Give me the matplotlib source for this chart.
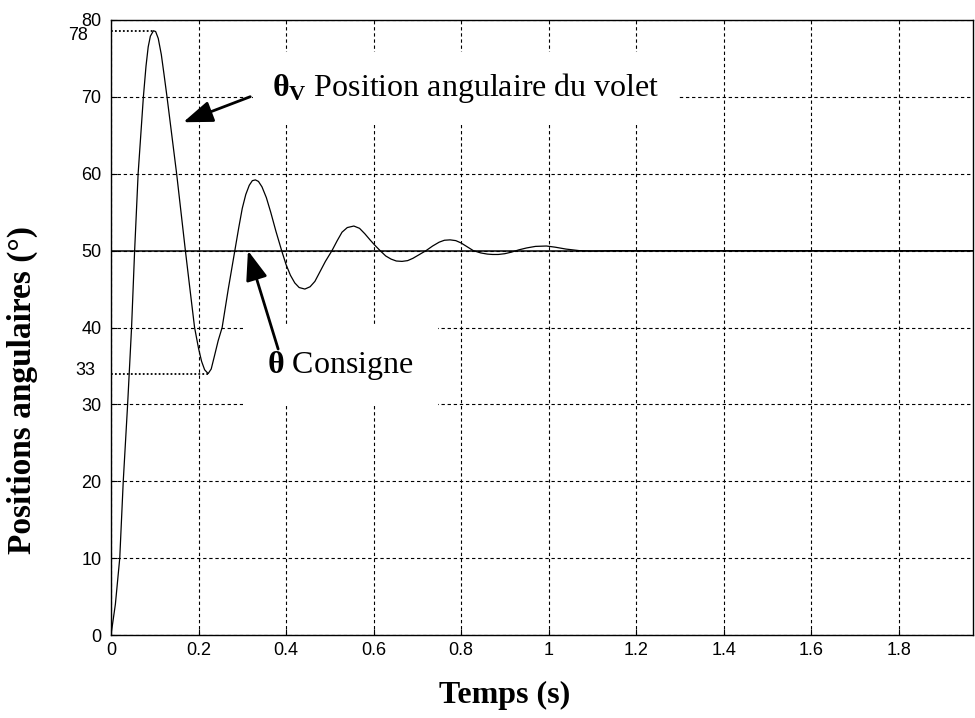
import matplotlib.pyplot as plt

plt.rcParams.update({
    "font.family": "Liberation Sans",
    "mathtext.fontset": "custom",
    "mathtext.rm": "Liberation Serif",
    "mathtext.bf": "Liberation Serif:bold",
    "mathtext.it": "Liberation Serif:italic",
})

# Step response (time in s, angle in degrees)
temps = [0.000, 0.010, 0.020, 0.028, 0.038, 0.047, 0.054, 0.062, 0.074, 0.080,
         0.085, 0.090, 0.097, 0.102, 0.108, 0.115, 0.121, 0.128, 0.139, 0.150,
         0.160, 0.170, 0.180, 0.191, 0.200, 0.207, 0.214, 0.222, 0.229, 0.236,
         0.245, 0.254, 0.268, 0.283, 0.292, 0.300, 0.308, 0.316, 0.323, 0.330,
         0.337, 0.345, 0.355, 0.365, 0.377, 0.390, 0.400, 0.410, 0.420, 0.430,
         0.443, 0.455, 0.466, 0.478, 0.490, 0.505, 0.517, 0.528, 0.540, 0.555,
         0.568, 0.580, 0.592, 0.603, 0.615, 0.628, 0.640, 0.652, 0.665, 0.678,
         0.690, 0.705, 0.720, 0.735, 0.750, 0.762, 0.775, 0.788, 0.800, 0.814,
         0.828, 0.845, 0.860, 0.872, 0.885, 0.900, 0.915, 0.932, 0.950, 0.970,
         0.995, 1.015, 1.040, 1.070, 1.100, 1.150, 1.970]
theta_v = [0.0, 4.0, 10.0, 20.0, 30.0, 40.0, 50.0, 60.0, 70.0, 74.0,
           76.5, 77.9, 78.6, 78.5, 77.6, 75.5, 73.0, 70.0, 65.0, 60.0,
           55.0, 50.0, 45.2, 40.0, 37.3, 35.6, 34.5, 34.0, 34.6, 36.2,
           38.3, 40.0, 45.0, 50.0, 53.0, 55.5, 57.3, 58.5, 59.1, 59.2,
           59.0, 58.3, 56.9, 55.0, 52.5, 50.0, 48.2, 46.8, 45.8, 45.2,
           45.0, 45.3, 46.0, 47.3, 48.6, 50.0, 51.3, 52.4, 53.0, 53.2,
           52.9, 52.2, 51.4, 50.7, 50.0, 49.3, 48.9, 48.65, 48.6, 48.7,
           49.0, 49.5, 50.0, 50.6, 51.1, 51.35, 51.4, 51.3, 51.0, 50.5,
           50.0, 49.7, 49.55, 49.5, 49.5, 49.6, 49.8, 50.1, 50.35, 50.55,
           50.6, 50.45, 50.2, 50.0, 49.95, 50.0, 50.0]

consigne_t = [0.0, 1.97]
consigne = [50, 50]

x_ticks = [0, 0.2, 0.4, 0.6, 0.8, 1.0, 1.2, 1.4, 1.6, 1.8]
x_labels = ["0", "0.2", "0.4", "0.6", "0.8", "1", "1.2", "1.4", "1.6", "1.8"]
y_ticks = [0, 10, 20, 30, 40, 50, 60, 70, 80]

peak_label = "78"
trough_label = "33"

fig = plt.figure(figsize=(9.75, 7.18), dpi=100)
ax = fig.add_axes([111 / 975, 1 - 635 / 718, 862 / 975, 615 / 718])

# Curves
ax.plot(temps, theta_v, c="black", lw=0.9)
ax.plot(consigne_t, consigne, c="black", lw=1.1)

# Dotted markers for first peak and first trough
i_peak = theta_v.index(max(theta_v))
i_trough = theta_v.index(min(theta_v[i_peak:]))
for i, lab, dx, dy in [(i_peak, peak_label, -23, -5), (i_trough, trough_label, -16, 3)]:
    ax.plot([0, temps[i]], [theta_v[i]] * 2, c="black", lw=1.3, ls=(0, (1, 1.2)))
    ax.annotate(lab, xy=(0, theta_v[i]), xycoords=("axes fraction", "data"),
                xytext=(dx, dy), textcoords="offset pixels",
                ha="right", va="center", fontsize=13)

ax.set_xlim(0, 1.97)
ax.set_ylim(0, 80)
ax.set_xticks(x_ticks, x_labels)
ax.set_yticks(y_ticks)
ax.tick_params(direction="in", length=4, width=0.8, labelsize=13)
ax.tick_params(axis="x", pad=5)
ax.tick_params(axis="y", pad=7)
ax.grid(True, ls=(0, (3, 2.5)), lw=0.8, color="black")
for s in ax.spines.values():
    s.set_linewidth(1.0)

arrow_style = dict(arrowstyle="-|>,head_length=0.9,head_width=0.33",
                   mutation_scale=20, lw=2, color="black")

# Annotations with white boxes that cut the grid
ax.annotate(r"$\mathbf{\theta_V}$ Position angulaire du volet",
            xy=(0.165, 66.7), xytext=(0.368, 71.1),
            ha="left", va="center", family="Liberation Serif", fontsize=23,
            bbox=dict(boxstyle="square,pad=0.6", fc="white", ec="none"),
            arrowprops=dict(arrow_style, relpos=(0, 0.5), shrinkB=0))

ax.text(0.357, 35.0, r"$\mathbf{\theta}$ Consigne",
        ha="left", va="center", family="Liberation Serif", fontsize=23,
        bbox=dict(boxstyle="square,pad=0.75", fc="white", ec="none"), zorder=3)
ax.annotate("", xy=(0.313, 50), xytext=(0.382, 37.2), zorder=4,
            arrowprops=dict(arrow_style, shrinkA=0, shrinkB=0))

fig.text(505 / 975, 1 - 695 / 718, "Temps (s)", ha="center", va="center",
         family="Liberation Serif", weight="bold", fontsize=23)
fig.text(22 / 975, 1 - 390 / 718, "Positions angulaires (°)", rotation=90,
         ha="center", va="center", family="Liberation Serif", weight="bold",
         fontsize=24)

fig.savefig("out.png", dpi=100)
